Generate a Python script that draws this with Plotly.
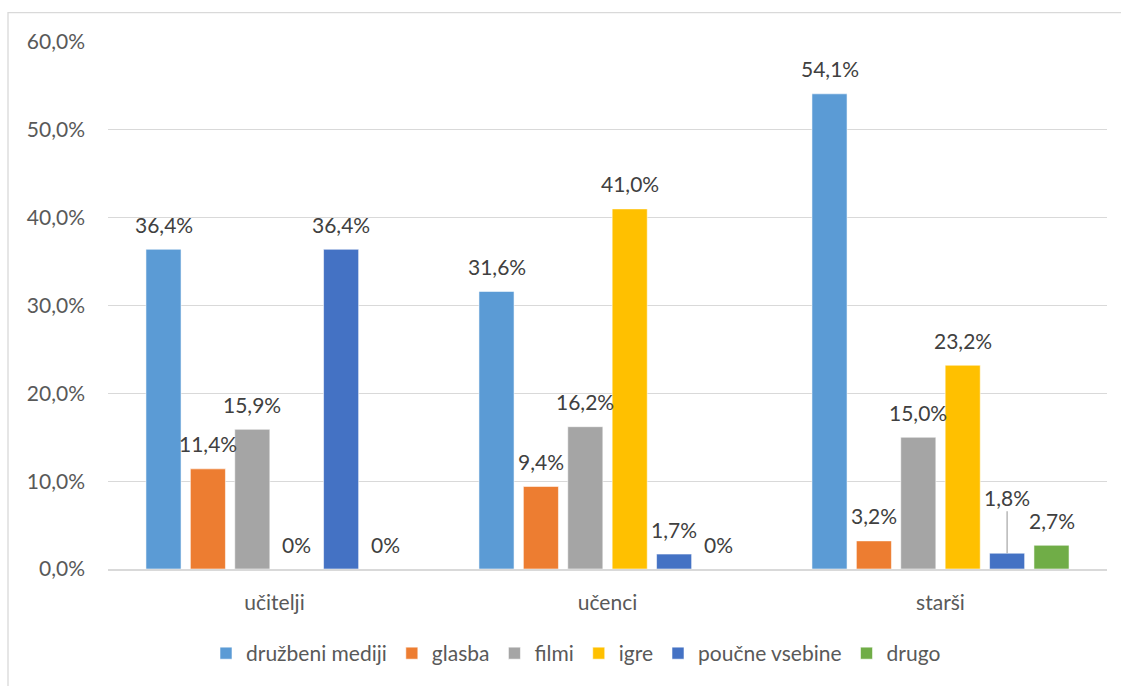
import plotly.graph_objects as go

# Grouped bar chart: share of content types per respondent group
groups = ["učitelji", "učenci", "starši"]
series_names = ["družbeni mediji", "glasba", "filmi", "igre", "poučne vsebine", "drugo"]
druzbeni_mediji = [36.4, 31.6, 54.1]
glasba = [11.4, 9.4, 3.2]
filmi = [15.9, 16.2, 15.0]
igre = [0.0, 41.0, 23.2]
poucne_vsebine = [36.4, 1.7, 1.8]
drugo = [0.0, 0.0, 2.7]
y_ticks = [0, 10, 20, 30, 40, 50, 60]
y_tick_labels = ["0,0%", "10,0%", "20,0%", "30,0%", "40,0%", "50,0%", "60,0%"]

series_values = [druzbeni_mediji, glasba, filmi, igre, poucne_vsebine, drugo]
colors = ["#5B9BD5", "#ED7D31", "#A5A5A5", "#FFC000", "#4472C4", "#70AD47"]

FONT = "Lato"
LABEL_COLOR = "#404040"
AXIS_COLOR = "#595959"
GRID = "#D9D9D9"
BARGAP = 0.2
BARGROUPGAP = 0.21

W, H = 1121, 686
ML, MR, MT, MB = 108, 14, 42, 114


def fmt(v):
    if v == 0:
        return "0%"
    return f"{v:.1f}".replace(".", ",") + "%"


fig = go.Figure()
for name, vals, col in zip(series_names, series_values, colors):
    fig.add_trace(go.Bar(
        name=name, x=groups, y=vals,
        marker=dict(color=col, line=dict(color="rgba(255,255,255,0.55)", width=1)),
        hoverinfo="skip",
    ))

# data labels positioned over each bar slot of the group
n = len(series_names)
slot = (1 - BARGAP) / n
annotations = []
for j, vals in enumerate(series_values):
    for i, v in enumerate(vals):
        xpos = i + (j - (n - 1) / 2) * slot
        if groups[i] == "starši" and series_names[j] == "poučne vsebine":
            # small bar: label lifted with a leader line
            annotations.append(dict(
                x=xpos, y=v, xref="x", yref="y", text=fmt(v),
                showarrow=True, arrowhead=0, arrowwidth=1.2, arrowcolor="#A6A6A6",
                ax=0, ay=-56, standoff=0,
                font=dict(family=FONT, size=21, color=LABEL_COLOR),
            ))
        else:
            annotations.append(dict(
                x=xpos, y=v, xref="x", yref="y", text=fmt(v),
                showarrow=False, yanchor="middle", yshift=25,
                font=dict(family=FONT, size=21, color=LABEL_COLOR),
            ))

pw = W - ML - MR
ph = H - MT - MB
# outer chart frame
frame = dict(
    type="rect", xref="paper", yref="paper",
    x0=(8 - ML) / pw, x1=(W + 5 - ML) / pw,
    y0=-(H + 5 - MT - ph) / ph, y1=1 + (MT - 12.5) / ph,
    line=dict(color=GRID, width=1.3), fillcolor="rgba(0,0,0,0)", layer="below",
)

fig.update_layout(
    width=W, height=H,
    margin=dict(l=ML, r=MR, t=MT, b=MB),
    barmode="group", bargap=BARGAP, bargroupgap=BARGROUPGAP,
    paper_bgcolor="white", plot_bgcolor="white",
    font=dict(family=FONT, size=21, color=AXIS_COLOR),
    showlegend=True,
    legend=dict(
        orientation="h", x=(576 - ML) / pw, xanchor="center",
        y=-(657 - MT - ph) / ph, yanchor="middle",
        font=dict(family=FONT, size=21, color=AXIS_COLOR),
        itemwidth=30, traceorder="normal",
    ),
    annotations=annotations,
    shapes=[frame],
)
fig.update_xaxes(
    showgrid=False, showline=True, linecolor=GRID, linewidth=1.5,
    ticks="", ticklabelstandoff=14, range=[-0.5, 2.5],
    tickfont=dict(family=FONT, size=21, color=AXIS_COLOR),
)
fig.update_yaxes(
    range=[0, 60], tickmode="array", tickvals=y_ticks, ticktext=y_tick_labels,
    showgrid=True, gridcolor=GRID, gridwidth=1.2, zeroline=False,
    showline=False, ticks="", ticklabelstandoff=22,
    tickfont=dict(family=FONT, size=21, color=AXIS_COLOR),
)

fig.write_html("out.html")
